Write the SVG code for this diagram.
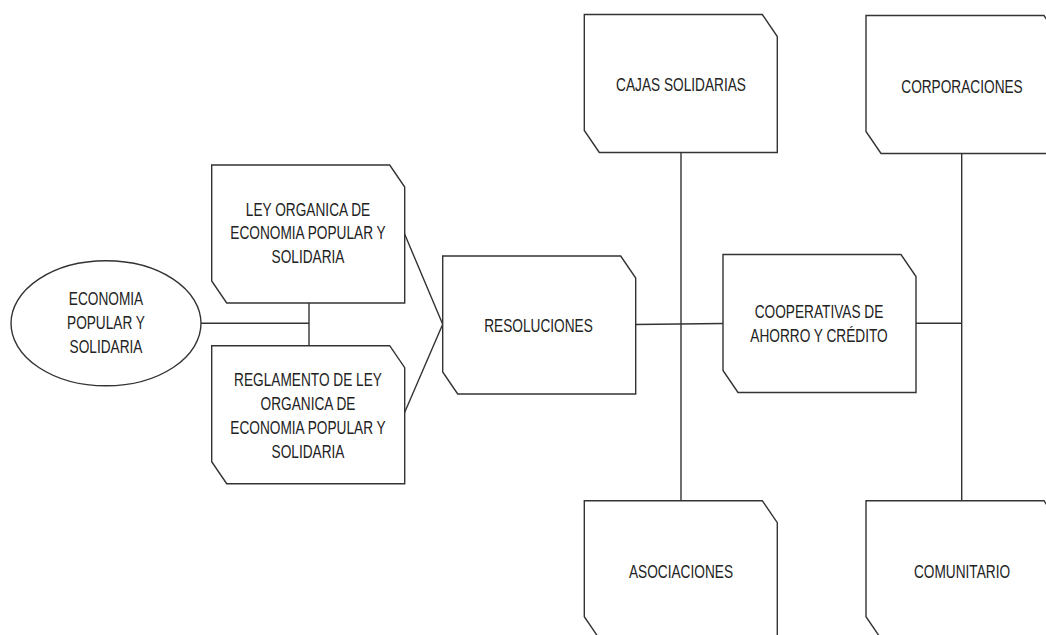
<svg xmlns="http://www.w3.org/2000/svg" width="1046" height="635" viewBox="0 0 1046 635">
  <defs>
    <!-- chamfered card: 193 x 138, corners cut top-right and bottom-left -->
    <path id="card" d="M0 0 H178 L193 22 V138 H15 L0 116 Z"/>
    <style>
      .shape { fill: #ffffff; stroke: #333333; stroke-width: 1.4; }
      .wire { fill: none; stroke: #333333; stroke-width: 1.4; }
      .lbl { font-family: "Liberation Sans", Arial, sans-serif; font-size: 18px; fill: #222222; text-anchor: middle; }
    </style>
  </defs>
  <rect width="1046" height="635" fill="#ffffff"/>

  <g id="connectors">
    <line class="wire" x1="200.7" y1="323.3" x2="309" y2="323.3"/>
    <line class="wire" x1="309" y1="302.7" x2="309" y2="345.7"/>
    <polyline class="wire" points="404.3,233.3 442.7,324.3 404.3,413.3"/>
    <line class="wire" x1="634.3" y1="324.5" x2="723.3" y2="323.5"/>
    <line class="wire" x1="681" y1="153" x2="681" y2="501"/>
    <line class="wire" x1="915" y1="323.3" x2="961.7" y2="323.3"/>
    <line class="wire" x1="961.7" y1="154" x2="961.7" y2="501"/>
  </g>

  <!-- labels use a condensed look: each line is centred at its group origin and squeezed horizontally -->
  <g id="economia">
    <ellipse class="shape" cx="106" cy="323.3" rx="95" ry="62.5"/>
    <g transform="translate(106 0) scale(0.76 1)">
      <text class="lbl" x="0" y="305">ECONOMIA</text>
      <text class="lbl" x="0" y="329">POPULAR Y</text>
      <text class="lbl" x="0" y="353">SOLIDARIA</text>
    </g>
  </g>

  <g id="ley-organica">
    <use href="#card" class="shape" x="211.7" y="165"/>
    <g transform="translate(308 0) scale(0.76 1)">
      <text class="lbl" x="0" y="215.7">LEY ORGANICA DE</text>
      <text class="lbl" x="0" y="239.5">ECONOMIA POPULAR Y</text>
      <text class="lbl" x="0" y="263.3">SOLIDARIA</text>
    </g>
  </g>

  <g id="reglamento">
    <use href="#card" class="shape" x="211.7" y="345.7"/>
    <g transform="translate(308 0) scale(0.76 1)">
      <text class="lbl" x="0" y="385.7">REGLAMENTO DE LEY</text>
      <text class="lbl" x="0" y="409.7">ORGANICA DE</text>
      <text class="lbl" x="0" y="433.7">ECONOMIA POPULAR Y</text>
      <text class="lbl" x="0" y="457.7">SOLIDARIA</text>
    </g>
  </g>

  <g id="resoluciones">
    <use href="#card" class="shape" x="442.7" y="256"/>
    <g transform="translate(538.5 0) scale(0.76 1)">
      <text class="lbl" x="0" y="332.3">RESOLUCIONES</text>
    </g>
  </g>

  <g id="cooperativas">
    <use href="#card" class="shape" x="723" y="254.5"/>
    <g transform="translate(819 0) scale(0.76 1)">
      <text class="lbl" x="0" y="318">COOPERATIVAS DE</text>
      <text class="lbl" x="0" y="342.3">AHORRO Y CRÉDITO</text>
    </g>
  </g>

  <g id="cajas">
    <use href="#card" class="shape" x="584.3" y="14.5"/>
    <g transform="translate(681 0) scale(0.76 1)">
      <text class="lbl" x="0" y="90.7">CAJAS SOLIDARIAS</text>
    </g>
  </g>

  <g id="corporaciones">
    <use href="#card" class="shape" x="866" y="15.5"/>
    <g transform="translate(962 0) scale(0.76 1)">
      <text class="lbl" x="0" y="93">CORPORACIONES</text>
    </g>
  </g>

  <g id="asociaciones">
    <use href="#card" class="shape" x="584.3" y="500.7"/>
    <g transform="translate(681 0) scale(0.76 1)">
      <text class="lbl" x="0" y="577.7">ASOCIACIONES</text>
    </g>
  </g>

  <g id="comunitario">
    <use href="#card" class="shape" x="866" y="500.7"/>
    <g transform="translate(962 0) scale(0.76 1)">
      <text class="lbl" x="0" y="577.7">COMUNITARIO</text>
    </g>
  </g>
</svg>
